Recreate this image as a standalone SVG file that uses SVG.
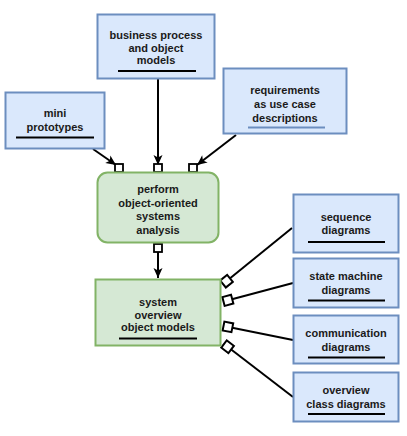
<svg xmlns="http://www.w3.org/2000/svg" width="407" height="436" viewBox="0 0 407 436">
<style>
.blue{fill:#dae8fc;stroke:#6c8ebf;stroke-width:2}
.green{fill:#d5e8d4;stroke:#82b366;stroke-width:2}
text{font-family:"Liberation Sans",Arial,sans-serif;font-size:11px;font-weight:bold;fill:#1a1a1a;text-anchor:middle}
.ul{stroke:#000;stroke-width:2}
.edge{fill:none;stroke:#000;stroke-width:2}
.port{fill:#fff;stroke:#000;stroke-width:1.8}
</style>
<defs>
<marker id="arr" markerUnits="userSpaceOnUse" markerWidth="12" markerHeight="10" viewBox="0 0 12 10" refX="11" refY="5" orient="auto">
<path d="M1,0.5 L11,5 L1,9.5 L3.5,5 z" fill="#000"/>
</marker>
<marker id="box" markerUnits="userSpaceOnUse" markerWidth="12" markerHeight="12" viewBox="-1.5 -1.5 12 12" refX="0" refY="4.5" orient="auto">
<rect x="0" y="0" width="9" height="9" fill="#fff" stroke="#000" stroke-width="2"/>
</marker>
</defs>
<g id="connectors">
<path class="edge" d="M93,149 L116,165" marker-end="url(#arr)"/>
<path class="edge" d="M158,79 L158,165" marker-end="url(#arr)"/>
<path class="edge" d="M236,135 L197,165" marker-end="url(#arr)"/>
<path class="edge" d="M158,252 L158,278" marker-end="url(#arr)"/>
<rect class="port" x="115" y="164" width="8" height="8"/>
<rect class="port" x="154" y="164" width="8" height="8"/>
<rect class="port" x="189" y="164" width="8" height="8"/>
<rect class="port" x="154" y="244" width="8" height="8"/>
<path class="edge" d="M223,284 L292,228" marker-start="url(#box)"/>
<path class="edge" d="M223.5,301.5 L293,283" marker-start="url(#box)"/>
<path class="edge" d="M223.5,326 L293,340" marker-start="url(#box)"/>
<path class="edge" d="M224,344 L293,397" marker-start="url(#box)"/>
</g>
<g id="business">
<rect class="blue" x="97.5" y="14.5" width="117" height="64"/>
<text x="156" y="39">business process</text>
<text x="156" y="51.5">and object</text>
<text x="156" y="64">models</text>
<line class="ul" x1="118" y1="71" x2="196" y2="71"/>
</g>
<g id="mini">
<rect class="blue" x="5.5" y="92.5" width="99" height="56"/>
<text x="55" y="117">mini</text>
<text x="55" y="131">prototypes</text>
<line class="ul" x1="16" y1="137.5" x2="94" y2="137.5"/>
</g>
<g id="requirements">
<rect class="blue" x="223.5" y="68.5" width="123" height="65"/>
<text x="285" y="94">requirements</text>
<text x="285" y="108">as use case</text>
<text x="285" y="122">descriptions</text>
<line x1="248" y1="127.5" x2="325" y2="127.5" stroke="#6c8ebf" stroke-width="2"/>
</g>
<g id="perform">
<rect class="green" x="97.5" y="172.5" width="121" height="70" rx="10"/>
<text x="158" y="193">perform</text>
<text x="158" y="207">object-oriented</text>
<text x="158" y="220">systems</text>
<text x="158" y="234">analysis</text>
</g>
<g id="system">
<rect class="green" x="95.5" y="279.5" width="125" height="66"/>
<text x="158" y="306">system</text>
<text x="158" y="318.5">overview</text>
<text x="158" y="331">object models</text>
<line class="ul" x1="119" y1="338.5" x2="197" y2="338.5"/>
</g>
<g id="sequence">
<rect class="blue" x="293.5" y="194.5" width="105" height="58"/>
<text x="346" y="221">sequence</text>
<text x="346" y="234">diagrams</text>
<line class="ul" x1="308" y1="242" x2="385" y2="242"/>
</g>
<g id="state">
<rect class="blue" x="293.5" y="258.5" width="105" height="49"/>
<text x="346" y="280">state machine</text>
<text x="346" y="294">diagrams</text>
<line class="ul" x1="308" y1="300.5" x2="385" y2="300.5"/>
</g>
<g id="communication">
<rect class="blue" x="293.5" y="315.5" width="105" height="48"/>
<text x="346" y="337">communication</text>
<text x="346" y="351">diagrams</text>
<line class="ul" x1="308" y1="357.5" x2="385" y2="357.5"/>
</g>
<g id="overview">
<rect class="blue" x="293.5" y="372.5" width="105" height="49"/>
<text x="346" y="394">overview</text>
<text x="346" y="408">class diagrams</text>
<line class="ul" x1="308" y1="414" x2="385" y2="414"/>
</g>
</svg>
